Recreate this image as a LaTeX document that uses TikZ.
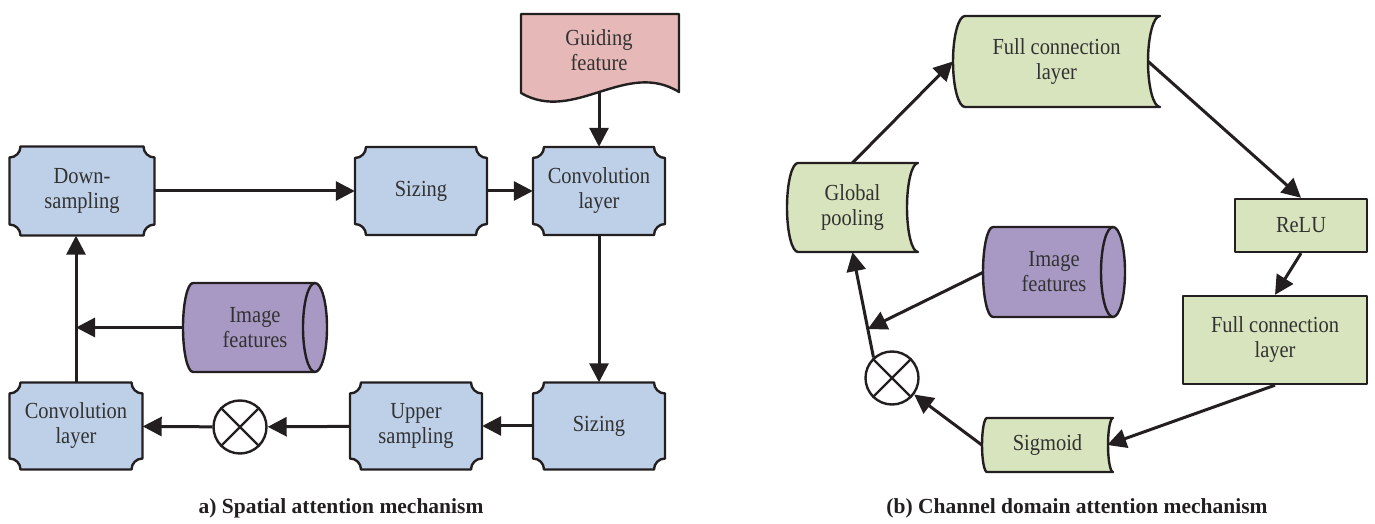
\documentclass[tikz,border=0pt]{standalone}
\usepackage{fontspec}
\setmainfont{Liberation Serif}[FakeStretch=0.89]
\newfontfamily\capfont{Liberation Serif}
\usetikzlibrary{arrows.meta,calc}

\definecolor{lineC}{RGB}{35,31,32}
\definecolor{blueF}{RGB}{190,208,232}
\definecolor{pinkF}{RGB}{230,185,184}
\definecolor{purpleF}{RGB}{168,153,196}
\definecolor{greenF}{RGB}{216,228,189}
\definecolor{textC}{RGB}{50,50,50}

\tikzset{
  boxline/.style={draw=lineC, line width=2.4pt, line join=round},
  boxtext/.style={inner sep=0pt, align=center, text=textC,
    font=\fontsize{23}{25}\selectfont},
  arr/.style={draw=lineC, line width=3pt,
    -{Triangle[length=19pt,width=19pt]}},
  cross/.style={draw=lineC, line width=2.4pt},
  caption/.style={inner sep=0pt, text=lineC,
    font=\capfont\fontsize{21.5}{24}\selectfont\bfseries}
}

% box with concave quarter-circle corners: name, cx, cy, w, h, text
\newcommand\ticketbox[6]{%
  \draw[boxline, fill=blueF]
    ({#2-#4/2+11},{#3+#5/2}) -- ({#2+#4/2-11},{#3+#5/2})
    arc[start angle=180, end angle=270, radius=11]
    -- ({#2+#4/2},{#3-#5/2+11})
    arc[start angle=90, end angle=180, radius=11]
    -- ({#2-#4/2+11},{#3-#5/2})
    arc[start angle=0, end angle=90, radius=11]
    -- ({#2-#4/2},{#3+#5/2-11})
    arc[start angle=270, end angle=360, radius=11] -- cycle;
  \node[boxtext, minimum width=#4pt, minimum height=#5pt] (#1) at (#2,#3) {#6};
}

% box with convex left side and concave right side:
% name, x1, x2, ytop, ybottom, bulge, text
\newcommand\bulgebox[7]{%
  \draw[boxline, fill=greenF]
    (#2,#4) -- (#3,#4)
    arc[start angle=90, end angle=270, x radius=#6, y radius={(#4-#5)/2}]
    -- (#2,#5)
    arc[start angle=270, end angle=90, x radius=#6, y radius={(#4-#5)/2}]
    -- cycle;
  \node[boxtext, minimum width={(#3-#2+#6)*1pt}, minimum height={(#4-#5)*1pt}]
    (#1) at ({(#2-#6+#3)/2},{(#4+#5)/2}) {#7};
}

% horizontal cylinder: name, x1, x2, ytop, ybottom, text
\newcommand\cylbox[6]{%
  \draw[boxline, fill=purpleF]
    (#2,#4) -- (#3,#4)
    arc[start angle=90, end angle=-90, x radius=12, y radius={(#4-#5)/2}]
    -- (#2,#5)
    arc[start angle=270, end angle=90, x radius=10, y radius={(#4-#5)/2}]
    -- cycle;
  \draw[boxline]
    (#3,#4) arc[start angle=90, end angle=270, x radius=12, y radius={(#4-#5)/2}];
  \node[boxtext, minimum width={(#3-#2+20)*1pt}, minimum height={(#4-#5)*1pt}]
    (#1) at ({(#2+#3)/2+1},{(#4+#5)/2}) {#6};
}

% plain rectangle: name, cx, cy, w, h, text
\newcommand\rectbox[6]{%
  \node[boxline, fill=greenF, boxtext, minimum width=#4pt, minimum height=#5pt]
    (#1) at (#2,#3) {#6};
}

% multiplication junction: name, cx, cy
\newcommand\timesnode[3]{%
  \node[circle, cross, minimum size=53pt, inner sep=0pt] (#1) at (#2,#3) {};
  \draw[cross] (#1.45) -- (#1.225) (#1.135) -- (#1.315);
}

\begin{document}
\begin{tikzpicture}[x=1pt, y=1pt]
\useasboundingbox (0,0) rectangle (1375,524);

% ---------- (a) spatial attention ----------
\ticketbox{down}{82}{333}{145}{89}{Down-\\sampling}
\ticketbox{siz1}{421}{333}{132}{88}{Sizing}
\ticketbox{conv1}{599}{333}{132}{88}{Convolution\\layer}
\ticketbox{convb}{76}{98}{133}{87}{Convolution\\layer}
\ticketbox{up}{416}{98}{132}{87}{Upper\\sampling}
\ticketbox{siz2}{599}{98}{132}{87}{Sizing}
\timesnode{oxl}{240}{97}

% guiding feature (document shape)
\draw[boxline, fill=pinkF]
  (521,431) -- (521,510) -- (679,510) -- (679,432)
  .. controls (626,465) and (574,400) .. (521,431) -- cycle;
\node[boxtext, minimum width=158pt, minimum height=79pt] (guide) at (599,470.5)
  {};
\node[boxtext] (guidetext) at (599,474) {Guiding\\feature};

\cylbox{imgl}{193}{315}{241}{152}{Image\\features}

\draw[arr] (down) -- (siz1);
\draw[arr] (siz1) -- (conv1);
\draw[arr] (guide.south) -- (conv1.north);
\draw[arr] (conv1) -- (siz2);
\draw[arr] (siz2) -- (up);
\draw[arr] (up) -- (oxl);
\draw[arr] (oxl) -- (convb);
\draw[arr] (convb.north) -- (convb.north |- down.south);
\draw[arr] (imgl.west) -- (imgl.west -| convb.north);

\node[caption] (capa) at (341,16) {a) Spatial attention mechanism};

% ---------- (b) channel domain attention ----------
\bulgebox{fc1}{965}{1160}{508}{417}{12}{Full connection\\layer}
\bulgebox{pool}{798}{918}{361}{272}{11}{Global\\pooling}
\bulgebox{sig}{987}{1113}{106}{52}{5}{Sigmoid}
\cylbox{imgr}{993}{1113}{297}{207}{Image\\features}
\rectbox{relu}{1301}{298.5}{132}{53}{ReLU}
\rectbox{fc2}{1275}{184}{184}{88}{Full connection\\layer}
\timesnode{oxr}{892}{146}

\coordinate (join) at ($(oxr.132)!0.27!(pool.south)$);

\draw[arr] (pool.north) -- (fc1.west);
\draw[arr] ([xshift=-12pt]fc1.east) -- (relu.north);
\draw[arr] (relu.south) -- (fc2.north);
\draw[arr] (fc2.south) -- ([xshift=-6pt]sig.east);
\draw[arr] (sig.west) -- (oxr);
\draw[arr] (oxr.132) -- (pool.south);
\draw[arr] (imgr.west) -- (join);

\node[caption] (capb) at (1077,16) {(b) Channel domain attention mechanism};
\end{tikzpicture}
\end{document}
